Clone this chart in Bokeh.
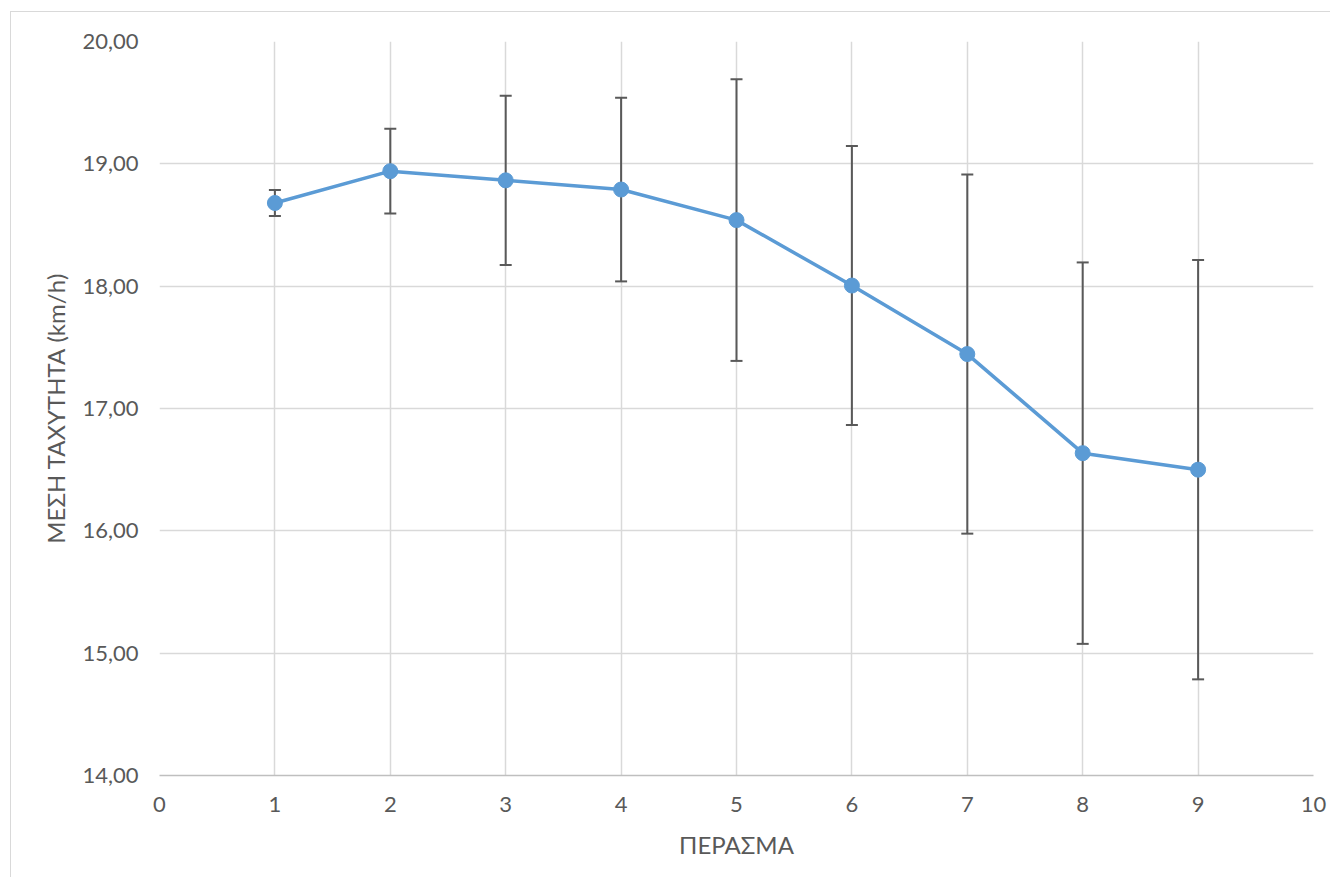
from bokeh.plotting import figure
from bokeh.models import Range1d, FixedTicker, CustomJSTickFormatter
from bokeh.embed import file_html
from bokeh.resources import INLINE

# Data
passes = [1, 2, 3, 4, 5, 6, 7, 8, 9]
mean_speed = [18.68, 18.94, 18.865, 18.79, 18.54, 18.005, 17.445, 16.635, 16.50]
std_err = [0.107, 0.346, 0.692, 0.751, 1.151, 1.14, 1.468, 1.559, 1.714]
x_ticks = [0, 1, 2, 3, 4, 5, 6, 7, 8, 9, 10]
y_ticks = [14, 15, 16, 17, 18, 19, 20]
x_title = "ΠΕΡΑΣΜΑ"
y_title = "ΜΕΣΗ ΤΑΧΥΤΗΤΑ (km/h)"

upper = [m + e for m, e in zip(mean_speed, std_err)]
lower = [m - e for m, e in zip(mean_speed, std_err)]

FONT = "Lato"
TXT = "#595959"
GRID = "#d9d9d9"

p = figure(width=1320, height=866, output_backend="svg", toolbar_location=None,
           x_range=Range1d(0, 10), y_range=Range1d(14, 20),
           min_border_left=148, min_border_top=29, min_border_right=18, min_border_bottom=103)
p.styles = {"border-left": "1px solid #d9d9d9", "border-top": "1px solid #d9d9d9",
            "margin-left": "10px", "margin-top": "11px"}
p.outline_line_color = None
p.background_fill_color = "white"
p.border_fill_color = "white"

p.xaxis.ticker = FixedTicker(ticks=x_ticks)
p.yaxis.ticker = FixedTicker(ticks=y_ticks)
p.yaxis.formatter = CustomJSTickFormatter(code="return tick.toFixed(2).replace('.', ',');")

for ax in (p.xaxis, p.yaxis):
    ax.major_tick_out = 0
    ax.major_tick_in = 0
    ax.minor_tick_out = 0
    ax.minor_tick_in = 0
    ax.major_label_text_font = FONT
    ax.major_label_text_font_size = "22px"
    ax.major_label_text_color = TXT
    ax.axis_label_text_font = FONT
    ax.axis_label_text_font_size = "24px"
    ax.axis_label_text_color = TXT
    ax.axis_label_text_font_style = "normal"

p.xaxis.axis_line_color = "#bfbfbf"
p.xaxis.axis_line_width = 1.5
p.yaxis.axis_line_color = None
p.xaxis.major_label_standoff = 21
p.yaxis.major_label_standoff = 21
p.xaxis.axis_label = x_title
p.yaxis.axis_label = y_title
p.xaxis.axis_label_standoff = 15
p.yaxis.axis_label_standoff = 9

p.xgrid.grid_line_color = GRID
p.ygrid.grid_line_color = GRID
p.xgrid.grid_line_width = 1.5
p.ygrid.grid_line_width = 1.5

# error bars
p.segment(x0=passes, y0=lower, x1=passes, y1=upper, line_color="#595959", line_width=2)
p.scatter(x=passes, y=upper, marker="dash", size=12, line_color="#595959", line_width=2)
p.scatter(x=passes, y=lower, marker="dash", size=12, line_color="#595959", line_width=2)

# series
p.line(passes, mean_speed, line_color="#5B9BD5", line_width=3.5)
p.scatter(passes, mean_speed, marker="circle", size=15, fill_color="#5B9BD5", line_color="#5B9BD5")

open("out.html", "w").write(file_html(p, INLINE))
